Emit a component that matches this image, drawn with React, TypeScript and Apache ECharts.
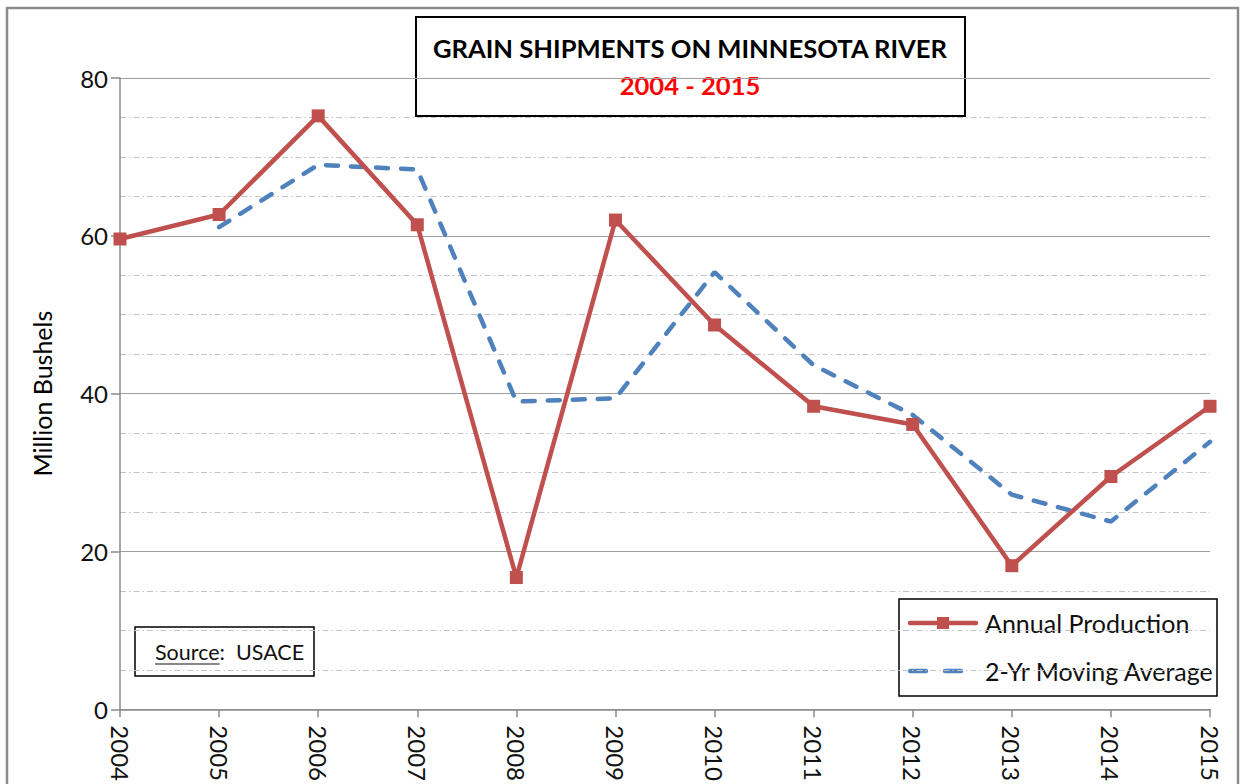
import React, { useEffect, useRef } from "react";
import * as echarts from "echarts";

const years = ["2004", "2005", "2006", "2007", "2008", "2009", "2010", "2011", "2012", "2013", "2014", "2015"];
const annualProduction = [59.6, 62.7, 75.2, 61.4, 16.7, 62.0, 48.7, 38.4, 36.1, 18.2, 29.5, 38.4];
const movingAverage = [null, 61.1, 69.0, 68.4, 39.0, 39.4, 55.4, 43.6, 37.3, 27.2, 23.8, 33.9];
const seriesNames = ["Annual Production", "2-Yr Moving Average"];
const seriesColors = ["#C0504D", "#4F81BD"];
const titleLines = ["GRAIN SHIPMENTS ON MINNESOTA RIVER", "2004 - 2015"];
const yAxisName = "Million Bushels";
const sourceLabel = "Source";
const sourceValue = ":  USACE";

const FONT = "Lato";

function measure(text: string, font: string): number {
  const c = document.createElement("canvas").getContext("2d");
  if (!c) return text.length * 10;
  c.font = font;
  return c.measureText(text).width;
}

export default function App() {
  const ref = useRef<HTMLDivElement>(null);
  useEffect(() => {
    document.body.style.margin = "0";
    const chart = echarts.init(ref.current!, null, { renderer: "svg" });
    const srcSize = 21.5;
    const srcW = measure(sourceLabel, `${srcSize}px ${FONT}`);
    const legX = 899, legY = 599, legW = 318, legH = 97;
    const row1 = 623, row2 = 671;
    const option: any = {
      animation: false,
      backgroundColor: "#fff",
      textStyle: { fontFamily: FONT },
      grid: { left: 120, right: 35, top: 78, bottom: 74, containLabel: false },
      xAxis: {
        type: "category",
        data: years,
        boundaryGap: false,
        axisLine: { lineStyle: { color: "#8a8a8a", width: 1.5 } },
        axisTick: { show: true, length: 8, lineStyle: { color: "#8a8a8a", width: 1.5 } },
        axisLabel: { rotate: -90, margin: 16, fontSize: 24, color: "#111", fontFamily: FONT },
        splitLine: { show: false },
      },
      yAxis: {
        type: "value",
        min: 0,
        max: 80,
        interval: 20,
        name: yAxisName,
        nameLocation: "middle",
        nameGap: 66,
        nameTextStyle: { fontSize: 25, color: "#000", fontFamily: FONT },
        axisLine: { show: true, lineStyle: { color: "#8a8a8a", width: 1.5 } },
        axisTick: { show: true, length: 9, lineStyle: { color: "#8a8a8a", width: 1.5 } },
        axisLabel: { margin: 12, fontSize: 24, color: "#111", fontFamily: FONT },
        splitLine: { show: true, lineStyle: { color: "#a0a0a0", width: 1.2 } },
        minorTick: { show: false, splitNumber: 4 },
        minorSplitLine: { show: true, lineStyle: { color: "#c4c4c4", width: 1, type: [6, 3, 1.5, 3] } },
      },
      series: [
        {
          name: seriesNames[0],
          type: "line",
          data: annualProduction,
          symbol: "rect",
          symbolSize: 13,
          lineStyle: { color: seriesColors[0], width: 4.5 },
          itemStyle: { color: seriesColors[0] },
          z: 3,
        },
        {
          name: seriesNames[1],
          type: "line",
          data: movingAverage,
          symbol: "none",
          lineStyle: { color: seriesColors[1], width: 4.5, type: [12, 13], cap: "round" },
          itemStyle: { color: seriesColors[1] },
          z: 2,
        },
      ],
      graphic: [
        {
          type: "rect",
          z: 0,
          silent: true,
          shape: { x: 7, y: 8, width: 1231, height: 800 },
          style: { fill: "none", stroke: "#8c8c8c", lineWidth: 2.5 },
        },
        {
          type: "group",
          z: 100,
          children: [
            {
              type: "rect",
              shape: { x: 416, y: 17, width: 549, height: 99 },
              style: { fill: "#fff", stroke: "#000", lineWidth: 2 },
            },
            {
              type: "text",
              x: 690,
              y: 48,
              style: {
                text: titleLines[0],
                fill: "#000",
                font: `bold 25.6px ${FONT}`,
                textAlign: "center",
                textVerticalAlign: "middle",
              },
            },
            {
              type: "text",
              x: 690,
              y: 85,
              style: {
                text: titleLines[1],
                fill: "#ff0000",
                font: `bold 25.6px ${FONT}`,
                textAlign: "center",
                textVerticalAlign: "middle",
              },
            },
          ],
        },
        {
          type: "group",
          z: 100,
          children: [
            {
              type: "rect",
              shape: { x: 135, y: 627, width: 179, height: 49 },
              style: { fill: "#fff", stroke: "#000", lineWidth: 1.5 },
            },
            {
              type: "text",
              x: 155,
              y: 652,
              style: {
                text: sourceLabel + sourceValue,
                fill: "#111",
                font: `${srcSize}px ${FONT}`,
                textAlign: "left",
                textVerticalAlign: "middle",
              },
            },
            {
              type: "line",
              shape: { x1: 155, y1: 664, x2: 155 + srcW, y2: 664 },
              style: { stroke: "#111", lineWidth: 1.2 },
            },
          ],
        },
        {
          type: "group",
          z: 100,
          children: [
            {
              type: "rect",
              shape: { x: legX, y: legY, width: legW, height: legH },
              style: { fill: "#fff", stroke: "#000", lineWidth: 1.5 },
            },
            {
              type: "line",
              shape: { x1: 910, y1: row1, x2: 976, y2: row1 },
              style: { stroke: seriesColors[0], lineWidth: 4.5, lineCap: "round" },
            },
            {
              type: "rect",
              shape: { x: 943 - 6, y: row1 - 6, width: 12, height: 12 },
              style: { fill: seriesColors[0] },
            },
            {
              type: "text",
              x: 985,
              y: row1,
              style: {
                text: seriesNames[0],
                fill: "#111",
                font: `25px ${FONT}`,
                textAlign: "left",
                textVerticalAlign: "middle",
              },
            },
            {
              type: "line",
              shape: { x1: 910, y1: row2, x2: 926, y2: row2 },
              style: { stroke: seriesColors[1], lineWidth: 4.5, lineCap: "round" },
            },
            {
              type: "line",
              shape: { x1: 945, y1: row2, x2: 961, y2: row2 },
              style: { stroke: seriesColors[1], lineWidth: 4.5, lineCap: "round" },
            },
            {
              type: "text",
              x: 985,
              y: row2,
              style: {
                text: seriesNames[1],
                fill: "#111",
                font: `25px ${FONT}`,
                textAlign: "left",
                textVerticalAlign: "middle",
              },
            },
          ],
        },
      ],
    };
    chart.setOption(option);
    return () => chart.dispose();
  }, []);
  return <div ref={ref} style={{ width: 1245, height: 784 }} />;
}
